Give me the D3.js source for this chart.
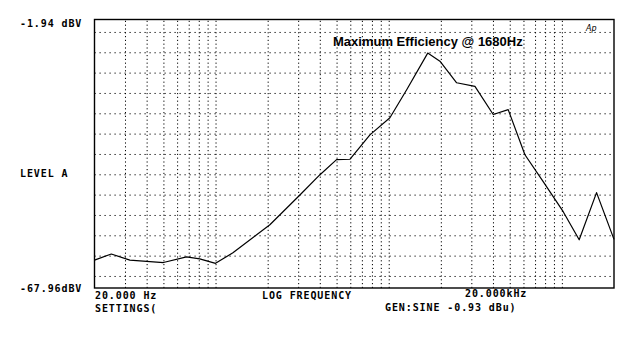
<!DOCTYPE html>
<html>
<head>
<meta charset="utf-8">
<script src="https://cdn.jsdelivr.net/npm/d3@7"></script>
<style>
  html, body { margin: 0; padding: 0; background: #fff; }
  svg { display: block; }
  .mono { font-family: "DejaVu Sans Mono", "Liberation Mono", monospace; font-weight: bold; font-size: 10px; letter-spacing: 0.9px; fill: #000; }
  .title { font-family: "Liberation Sans", Arial, sans-serif; font-weight: bold; font-size: 13px; fill: #000; }
</style>
</head>
<body>
<svg id="chart" width="640" height="350"></svg>
<script>
// Measured response: frequency (Hz) and level (dBV)
const freqHz = [20, 25, 32, 50, 68, 81, 100, 126, 206, 307, 401, 500, 598, 779, 1016, 1270,
                1680, 1976, 2468, 3148, 4014, 4898, 6118, 7800, 10180, 12590, 15860, 20000];
const levelDb = [-61.1, -59.6, -61.1, -61.7, -60.3, -60.8, -61.9, -59.3, -52.4, -45.1, -40.1, -36.4, -36.3, -30.3, -26.1, -19.2,
                 -10.2, -12.2, -17.5, -18.4, -25.3, -24.1, -35.2, -41.8, -49.2, -56.1, -44.5, -56.0];

// Axis range and grid positions
const freqDomain = [20, 20000];
const levelDomain = [-67.96, -1.94];
const gridFreqs = [30, 40, 50, 60, 70, 80, 90, 100, 200, 300, 400, 500, 600, 700, 800, 900,
                   1000, 2000, 3000, 4000, 5000, 6000, 7000, 8000, 9000, 10000];
const gridLevels = [-5, -10, -15, -20, -25, -30, -35, -40, -45, -50, -55, -60, -65];

// Text
const topLabel = "-1.94 dBV";
const bottomLabel = "-67.96dBV";
const yTitle = "LEVEL  A";
const xStartLabel = "20.000 Hz";
const xEndLabel = "20.000kHz";
const xTitle = "LOG FREQUENCY";
const settingsLabel = "SETTINGS(";
const genLabel = "GEN:SINE  -0.93 dBu)";
const chartTitle = "Maximum Efficiency @ 1680Hz";
const logoLabel = "Ap";

const plot = { left: 94.5, right: 614, top: 19.5, bottom: 288 };
const svg = d3.select("#chart");

const x = d3.scaleLog().domain(freqDomain).range([plot.left, plot.right]);
const y = d3.scaleLinear().domain(levelDomain).range([plot.bottom, plot.top]);

// Dotted grid built from axes
const gx = svg.append("g")
  .attr("transform", `translate(0,${plot.bottom})`)
  .call(d3.axisBottom(x).tickValues(gridFreqs).tickSize(-(plot.bottom - plot.top)).tickFormat(""));
gx.select(".domain").remove();
gx.selectAll(".tick line").attr("stroke", "#000").attr("stroke-width", 1)
  .attr("stroke-dasharray", "1.2,2.6");

const gy = svg.append("g")
  .attr("transform", `translate(${plot.left},0)`)
  .call(d3.axisLeft(y).tickValues(gridLevels).tickSize(-(plot.right - plot.left)).tickFormat(""));
gy.select(".domain").remove();
gy.selectAll(".tick line").attr("stroke", "#000").attr("stroke-width", 1)
  .attr("stroke-dasharray", "1.2,3.8");

// Frame
svg.append("rect")
  .attr("x", plot.left).attr("y", plot.top)
  .attr("width", plot.right - plot.left).attr("height", plot.bottom - plot.top)
  .attr("fill", "none").attr("stroke", "#000").attr("stroke-width", 1.4);

// Response curve
const line = d3.line().x((d, i) => x(freqHz[i])).y(d => y(d));
svg.append("path")
  .datum(levelDb)
  .attr("d", line)
  .attr("fill", "none")
  .attr("stroke", "#000")
  .attr("stroke-width", 1.2)
  .attr("stroke-linejoin", "round");

// Labels
const txt = (s, tx, ty, cls) => svg.append("text").attr("class", cls).attr("x", tx).attr("y", ty).text(s);
txt(topLabel, 20, 27, "mono");
txt(yTitle, 20, 177, "mono");
txt(bottomLabel, 20, 292, "mono");
txt(xStartLabel, 95, 299, "mono");
txt(settingsLabel, 95, 312, "mono");
txt(xTitle, 262, 299, "mono");
txt(xEndLabel, 465, 297, "mono");
txt(genLabel, 385, 311, "mono");
txt(chartTitle, 333, 46, "title");
svg.append("text").attr("x", 586).attr("y", 31)
  .attr("font-family", "DejaVu Sans").attr("font-style", "italic").attr("font-size", 8)
  .attr("fill", "#000").text(logoLabel);
</script>
</body>
</html>
